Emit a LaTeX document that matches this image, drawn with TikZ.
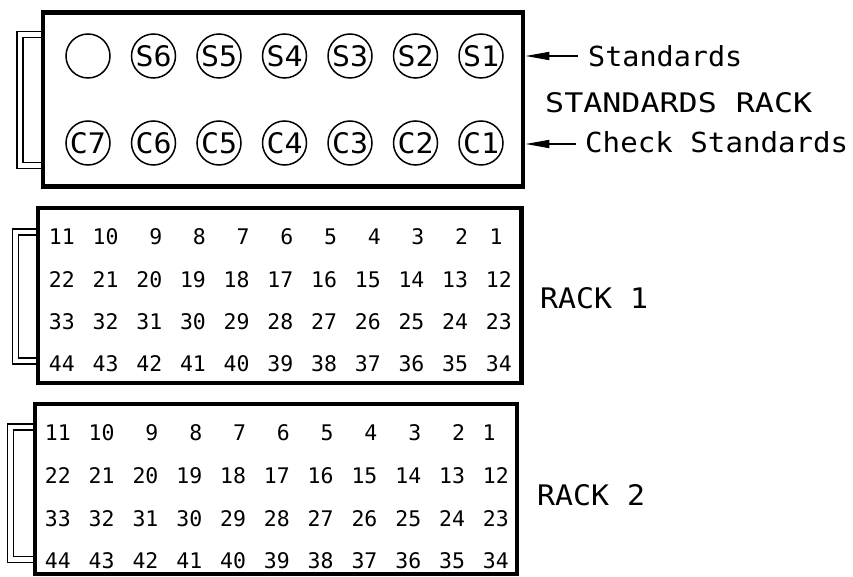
\documentclass[tikz,border=0pt]{standalone}
\usepackage{fontspec}
\usepackage{graphicx}
\newfontfamily\cad{DejaVu Sans Mono}
\usetikzlibrary{arrows.meta}
\pgfdeclarelayer{bg}
\pgfsetlayers{bg,main}
\begin{document}
\begin{tikzpicture}[x=1pt,y=-1pt,
  rackbox/.style={draw, rectangle, line width=4.8pt, inner sep=0pt},
  handle/.style={draw, double, line width=1.3pt, double distance=4.6pt, line join=miter, shorten <=-2pt, shorten >=-2pt},
  hole/.style={circle, draw, line width=1.5pt, minimum size=44pt, inner sep=0pt, font=\cad},
  num/.style={inner sep=0pt, anchor=east, font=\cad\fontsize{21.5}{21.5}\selectfont},
  lbl/.style={inner sep=0pt, anchor=base west, font=\cad},
  arr/.style={line width=1.8pt, -{Triangle[length=24pt,width=8pt]}}]
\useasboundingbox (0,0) rectangle (853,577);

% racks
\node[rackbox, minimum width=480pt, minimum height=174pt] (srack) at (283,99.5) {};
\node[rackbox, minimum width=483.5pt, minimum height=175pt] (rack1) at (279.75,295.5) {};
\node[rackbox, minimum width=482pt, minimum height=170pt] (rack2) at (276,489) {};

% handles
\coordinate (h1t) at (20,34.5);  \coordinate (h1b) at (20,165.5);
\coordinate (h2t) at (15.5,232); \coordinate (h2b) at (15.5,361);
\coordinate (h3t) at (10.5,427); \coordinate (h3b) at (10.5,559.5);
\begin{pgfonlayer}{bg}
\draw[handle] (srack.west |- h1t) -| (h1b) -- (srack.west |- h1b);
\draw[handle] (rack1.west |- h2t) -| (h2b) -- (rack1.west |- h2b);
\draw[handle] (rack2.west |- h3t) -| (h3b) -- (rack2.west |- h3b);
\end{pgfonlayer}

% standards holes
\node[hole] (h0) at (88,56) {};
\foreach \lab [count=\k] in {S6,S5,S4,S3,S2,S1}
  \node[hole] (h\lab) at (88+65.5*\k,56) {\resizebox{36pt}{21pt}{\lab}};
\foreach \lab [count=\k from 0] in {C7,C6,C5,C4,C3,C2,C1}
  \node[hole] (h\lab) at (88+65.5*\k,143) {\resizebox{36pt}{21pt}{\lab}};

% labels on the right
\node[lbl] (tstd) at (588,67) {\resizebox{154pt}{21pt}{Standards}};
\node[lbl] (tsr) at (545,113) {\resizebox{267pt}{20pt}{STANDARDS RACK}};
\node[lbl] (tchk) at (585,153) {\resizebox{263pt}{21pt}{Check Standards}};
\node[lbl] (tr1) at (540,308) {\resizebox{108pt}{21pt}{RACK 1}};
\node[lbl] (tr2) at (537,505) {\resizebox{108pt}{21pt}{RACK 2}};

\coordinate (a1) at (578,56);
\coordinate (a2) at (576,144);
\draw[arr] (a1) -- (a1 -| srack.east);
\draw[arr] (a2) -- (a2 -| srack.east);

% rack numbers
\foreach \r in {0,...,3}{
  \foreach \i in {0,...,10}{
    \pgfmathtruncatemacro\n{11*\r+11-\i}
    \ifnum\n>1
      \node[num] (ra\n) at (75+43.7*\i, 237+42.33*\r) {\n};
      \node[num] (rb\n) at (71+43.8*\i, 433+42.67*\r) {\n};
    \fi
  }
}
\node[num, anchor=center] (ra1) at (496,237) {1};
\node[num, anchor=center] (rb1) at (489,433) {1};
\end{tikzpicture}
\end{document}
